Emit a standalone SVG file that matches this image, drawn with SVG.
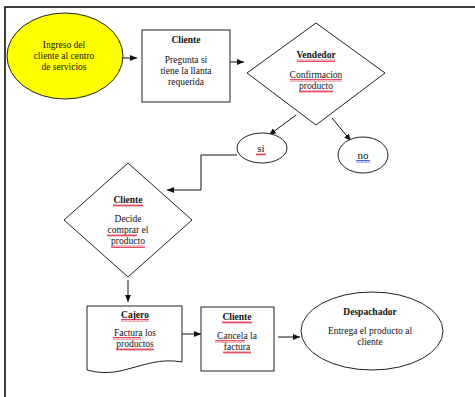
<svg xmlns="http://www.w3.org/2000/svg" width="475" height="397" viewBox="0 0 475 397">
<defs>
<style>
.s{fill:#fff;stroke:#222;stroke-width:1}
.t{font-family:"Liberation Serif","Times New Roman",serif;font-size:9.5px;fill:#111;text-anchor:middle}
.b{font-weight:bold}
.c{fill:none;stroke:#111;stroke-width:1}
</style>
<marker id="ah" markerWidth="8" markerHeight="8" refX="7" refY="4" orient="auto" markerUnits="userSpaceOnUse">
<path d="M0,1 L7,4 L0,7 Z" fill="#111"/>
</marker>
<pattern id="red" width="4" height="3" patternUnits="userSpaceOnUse">
<path d="M0,2.5 L1,0.5 L2,2.5 L3,0.5 L4,2.5" fill="none" stroke="#e0203a" stroke-width="0.8"/>
</pattern>
<pattern id="blue" width="4" height="3" patternUnits="userSpaceOnUse">
<path d="M0,2.5 L1,0.5 L2,2.5 L3,0.5 L4,2.5" fill="none" stroke="#2040d0" stroke-width="0.8"/>
</pattern>
</defs>
<rect width="475" height="397" fill="#fff"/>
<path d="M5,397 V7 H475" fill="none" stroke="#000" stroke-width="1.5"/>

<g id="connectors">
<line class="c" x1="105" y1="58" x2="137" y2="58" marker-end="url(#ah)"/>
<line class="c" x1="230" y1="62" x2="244" y2="62" marker-end="url(#ah)"/>
<line class="c" x1="296" y1="115" x2="269" y2="135" marker-end="url(#ah)"/>
<line class="c" x1="332" y1="118" x2="351" y2="141" marker-end="url(#ah)"/>
<path class="c" d="M237,155 H201 V190 H167" marker-end="url(#ah)"/>
<line class="c" x1="128" y1="280" x2="128" y2="302" marker-end="url(#ah)"/>
<line class="c" x1="182" y1="334" x2="201" y2="334" marker-end="url(#ah)"/>
<line class="c" x1="278" y1="337" x2="300" y2="337" marker-end="url(#ah)"/>
</g>

<g id="ingreso">
<ellipse cx="65" cy="56" rx="58" ry="43" fill="#ffff00" stroke="#222" stroke-width="1"/>
<text class="t" x="64" y="48">Ingreso del</text>
<text class="t" x="64" y="59">cliente al centro</text>
<text class="t" x="64" y="70">de servicios</text>
</g>

<g id="cliente1">
<rect class="s" x="142" y="30" width="88" height="72"/>
<text class="t b" x="186" y="43">Cliente</text>
<text class="t" x="186" y="63">Pregunta si</text>
<text class="t" x="186" y="74">tiene la llanta</text>
<text class="t" x="186" y="85">requerida</text>
</g>

<g id="vendedor">
<polygon class="s" points="316,23 385,73 316,125 247,73"/>
<text class="t b" x="316" y="58">Vendedor</text>
<text class="t" x="316" y="78">Confirmacion</text>
<text class="t" x="316" y="89">producto</text>
<rect x="297" y="59" width="38" height="3" fill="url(#red)"/>
<rect x="290" y="79" width="52" height="3" fill="url(#red)"/>
<rect x="299" y="90" width="34" height="3" fill="url(#red)"/>
</g>

<g id="si">
<ellipse class="s" cx="262" cy="148" rx="25" ry="15"/>
<text class="t" x="261" y="152" style="font-size:11px">si</text>
<rect x="256" y="153" width="10" height="3" fill="url(#red)"/>
</g>

<g id="no">
<ellipse class="s" cx="363" cy="155" rx="25" ry="18"/>
<text class="t" x="363" y="159" style="font-size:11px">no</text>
<rect x="356" y="160" width="14" height="3" fill="url(#blue)"/>
</g>

<g id="cliente2">
<polygon class="s" points="128,163 192,220 128,277 64,220"/>
<text class="t b" x="128" y="203">Cliente</text>
<text class="t" x="128" y="222">Decide</text>
<text class="t" x="128" y="233">comprar el</text>
<text class="t" x="128" y="244">producto</text>
<rect x="113" y="204" width="30" height="3" fill="url(#red)"/>
<rect x="107" y="234" width="30" height="3" fill="url(#red)"/>
<rect x="111" y="245" width="34" height="3" fill="url(#red)"/>
</g>

<g id="cajero">
<path class="s" d="M87,306 H182 V362 C160,358 145,365 120,371 C105,374 95,372 87,370 Z"/>
<text class="t b" x="135" y="318">Cajero</text>
<text class="t" x="135" y="336">Factura los</text>
<text class="t" x="135" y="347">productos</text>
<rect x="121" y="319" width="28" height="3" fill="url(#red)"/>
<rect x="113" y="337" width="28" height="3" fill="url(#red)"/>
<rect x="116" y="348" width="38" height="3" fill="url(#red)"/>
</g>

<g id="cliente3">
<rect class="s" x="201" y="307" width="73" height="64"/>
<text class="t b" x="237" y="320">Cliente</text>
<text class="t" x="237" y="339">Cancela la</text>
<text class="t" x="237" y="350">factura</text>
<rect x="222" y="321" width="30" height="3" fill="url(#red)"/>
<rect x="215" y="340" width="30" height="3" fill="url(#red)"/>
<rect x="223" y="351" width="28" height="3" fill="url(#red)"/>
</g>

<g id="despachador">
<ellipse class="s" cx="372" cy="331" rx="71" ry="39"/>
<text class="t b" x="370" y="315">Despachador</text>
<text class="t" x="370" y="334">Entrega el producto al</text>
<text class="t" x="370" y="345">cliente</text>
</g>
</svg>
